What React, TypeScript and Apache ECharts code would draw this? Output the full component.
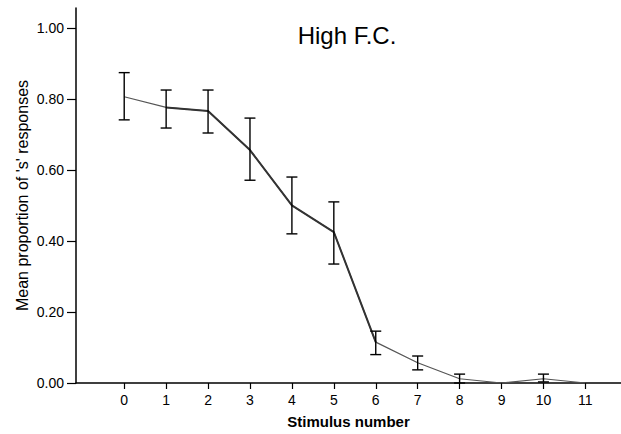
import React, { useEffect, useRef } from "react";
import * as echarts from "echarts";

const stimuli = [0, 1, 2, 3, 4, 5, 6, 7, 8, 9, 10, 11];
const means = [0.806, 0.776, 0.766, 0.656, 0.5, 0.425, 0.115, 0.057, 0.012, 0.0, 0.012, 0.0];
const upper = [0.874, 0.825, 0.825, 0.746, 0.58, 0.51, 0.146, 0.076, 0.025, 0.0, 0.025, 0.0];
const lower = [0.741, 0.718, 0.704, 0.571, 0.42, 0.335, 0.08, 0.037, 0.0, 0.0, 0.003, 0.0];
const thickIdx = [1, 2, 3, 4, 5, 6];
const yTicks = [0, 0.2, 0.4, 0.6, 0.8, 1.0];
const xTicks = stimuli;

export default function App() {
  const ref = useRef<HTMLDivElement>(null);
  useEffect(() => {
    if (!ref.current) return;
    const chart = echarts.init(ref.current, null, { renderer: "svg" });
    const font = "Arial, 'Liberation Sans', sans-serif";
    const lineData = stimuli.map((s, i) => [s, means[i]]);
    const thickData = stimuli.map((s, i) => (thickIdx.includes(i) ? [s, means[i]] : [s, null]));
    const errData = stimuli
      .map((s, i) => [s, lower[i], upper[i]])
      .filter((d) => d[2] - d[1] > 0.001);
    chart.setOption({
      animation: false,
      backgroundColor: "#fff",
      title: {
        text: "High F.C.",
        left: 342,
        top: 18,
        textAlign: "center",
        textStyle: { fontFamily: font, fontSize: 24, fontWeight: 500, color: "#000" },
      },
      grid: { left: 76, right: 0, top: 8, bottom: 51 },
      xAxis: {
        type: "value",
        min: -1.15,
        max: 11.85,
        name: "Stimulus number",
        nameLocation: "middle",
        nameGap: 31,
        nameMoveOverlap: false,
        nameTextStyle: { fontFamily: font, fontSize: 15, fontWeight: "bold", color: "#000" },
        axisLine: { onZero: false, lineStyle: { color: "#000", width: 1.5 } },
        axisTick: { show: true, length: 6, lineStyle: { color: "#000", width: 1.2 }, customValues: xTicks },
        axisLabel: { fontFamily: font, fontSize: 14, color: "#000", margin: 10, customValues: xTicks },
        splitLine: { show: false },
      },
      yAxis: {
        type: "value",
        min: 0,
        max: 1.056,
        name: "Mean proportion of 's' responses",
        nameLocation: "middle",
        nameRotate: 90,
        nameGap: 46,
        nameMoveOverlap: false,
        nameTextStyle: { fontFamily: font, fontSize: 16, color: "#000" },
        axisLine: { show: true, onZero: false, lineStyle: { color: "#000", width: 1.5 } },
        axisTick: { show: true, length: 9, lineStyle: { color: "#000", width: 1.2 }, customValues: yTicks },
        axisLabel: {
          fontFamily: font,
          fontSize: 14,
          color: "#000",
          margin: 12,
          customValues: yTicks,
          formatter: (v: number) => v.toFixed(2),
        },
        splitLine: { show: false },
      },
      series: [
        {
          type: "line",
          data: lineData,
          symbol: "none",
          lineStyle: { color: "#555", width: 1.2 },
          z: 2,
        },
        {
          type: "line",
          data: thickData,
          symbol: "none",
          connectNulls: false,
          lineStyle: { color: "#333", width: 2 },
          z: 3,
        },
        {
          type: "custom",
          data: errData,
          encode: { x: 0, y: [1, 2] },
          z: 4,
          renderItem: (params: any, api: any) => {
            const x = api.value(0);
            const lo = api.coord([x, api.value(1)]);
            const hi = api.coord([x, api.value(2)]);
            const hw = 5.5;
            const style = { stroke: "#000", lineWidth: 1.4 };
            return {
              type: "group",
              children: [
                { type: "line", shape: { x1: lo[0], y1: lo[1], x2: hi[0], y2: hi[1] }, style },
                { type: "line", shape: { x1: lo[0] - hw, y1: lo[1], x2: lo[0] + hw, y2: lo[1] }, style },
                { type: "line", shape: { x1: hi[0] - hw, y1: hi[1], x2: hi[0] + hw, y2: hi[1] }, style },
              ],
            };
          },
        },
      ],
    });
    return () => chart.dispose();
  }, []);
  return <div ref={ref} style={{ width: 621, height: 434, position: "absolute", left: 0, top: 0 }} />;
}
